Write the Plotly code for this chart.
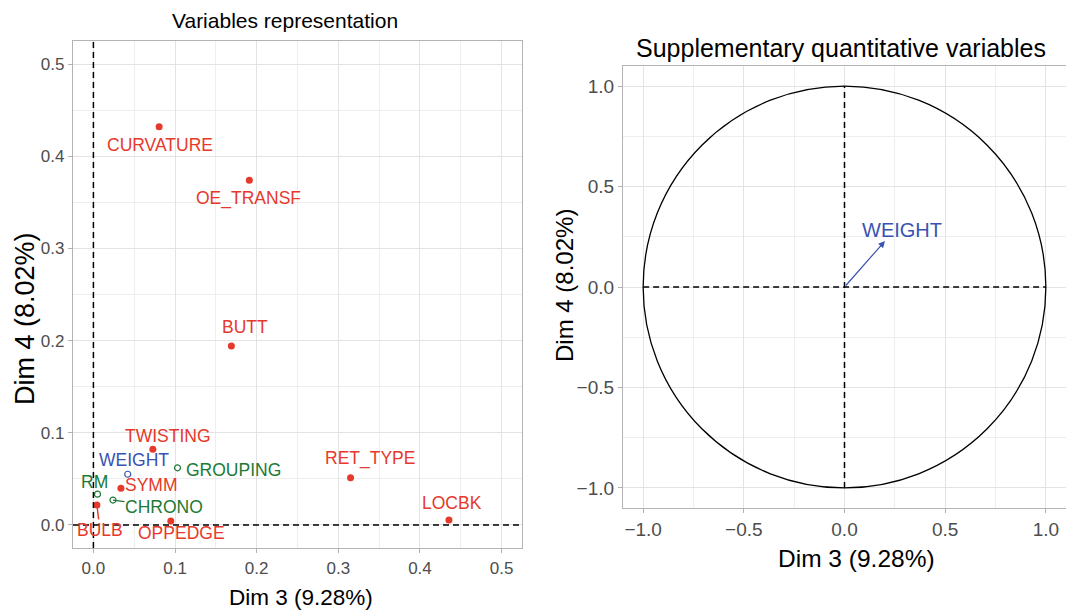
import plotly.graph_objects as go

# ---------------- data ----------------
active_vars = ["CURVATURE", "OE_TRANSF", "BUTT", "TWISTING", "SYMM", "BULB", "OPPEDGE", "RET_TYPE", "LOCBK"]
active_dim3 = [0.0805, 0.191, 0.169, 0.0728, 0.0337, 0.0043, 0.0948, 0.315, 0.4355]
active_dim4 = [0.432, 0.374, 0.194, 0.082, 0.0398, 0.0217, 0.0043, 0.0513, 0.0054]

qual_vars = ["GROUPING", "RM", "CHRONO"]
qual_dim3 = [0.103, 0.005, 0.024]
qual_dim4 = [0.062, 0.0334, 0.027]

quanti_vars = ["WEIGHT"]
quanti_dim3_sq = [0.042]
quanti_dim4_sq = [0.055]
quanti_cor3 = [0.201]
quanti_cor4 = [0.229]

left_ticks = [0.0, 0.1, 0.2, 0.3, 0.4, 0.5]
right_ticks = [-1.0, -0.5, 0.0, 0.5, 1.0]

# ---------------- styling ----------------
RED = "#E6392B"
GREEN = "#1C7A36"
BLUE = "#3953B3"
FONT = "Liberation Sans, Arial, sans-serif"
GRID = "#e3e3e3"
MINOR = "#eeeeee"
BORDER = "#b3b3b3"
TICKC = "#4d4d4d"
DASH = dict(color="black", width=1.5, dash="6px,4px")

# label pixel offsets (dx right, dy down) and whether a repel segment is drawn
label_offsets = {
    "CURVATURE": (1, 18, False), "OE_TRANSF": (-1, 18, False), "BUTT": (14, -19, False),
    "TWISTING": (15, -13, False), "SYMM": (31, -3, False), "BULB": (3, 25, True),
    "OPPEDGE": (11, 12, False), "RET_TYPE": (19, -19, False), "LOCBK": (3, -17, False),
    "GROUPING": (56, 2, False), "RM": (-3, -12, False), "CHRONO": (51, 7, True),
    "WEIGHT": (6, -14, False),
}

fig = go.Figure()

fig.add_trace(go.Scatter(x=active_dim3, y=active_dim4, mode="markers",
                         marker=dict(color=RED, size=7), xaxis="x", yaxis="y",
                         hovertext=active_vars, showlegend=False))
fig.add_trace(go.Scatter(x=qual_dim3, y=qual_dim4, mode="markers",
                         marker=dict(color=GREEN, size=6, symbol="circle-open", line=dict(width=1.2)),
                         xaxis="x", yaxis="y", hovertext=qual_vars, showlegend=False))
fig.add_trace(go.Scatter(x=quanti_dim3_sq, y=quanti_dim4_sq, mode="markers",
                         marker=dict(color=BLUE, size=6, symbol="circle-open", line=dict(width=1.2)),
                         xaxis="x", yaxis="y", hovertext=quanti_vars, showlegend=False))

annotations = []
LBL = 17.5

def add_labels(names, xs, ys, color):
    for n, x, y in zip(names, xs, ys):
        dx, dy, seg = label_offsets[n]
        if seg:
            annotations.append(dict(x=x, y=y, xref="x", yref="y", text=n, showarrow=True,
                                    ax=dx, ay=dy, arrowhead=0, arrowwidth=1.4, arrowcolor=color,
                                    standoff=0, borderpad=0,
                                    font=dict(family=FONT, size=LBL, color=color)))
        else:
            annotations.append(dict(x=x, y=y, xref="x", yref="y", text=n, showarrow=False,
                                    xanchor="center", yanchor="middle",
                                    xshift=dx, yshift=-dy,
                                    font=dict(family=FONT, size=LBL, color=color)))

add_labels(active_vars, active_dim3, active_dim4, RED)
add_labels(qual_vars, qual_dim3, qual_dim4, GREEN)
add_labels(quanti_vars, quanti_dim3_sq, quanti_dim4_sq, BLUE)

# right panel: dashed axes inside unit circle
R = 1.0
fig.add_trace(go.Scatter(x=[-R, R], y=[0, 0], mode="lines", xaxis="x2", yaxis="y2",
                         line=DASH, showlegend=False, hoverinfo="skip"))
fig.add_trace(go.Scatter(x=[0, 0], y=[-R, R], mode="lines", xaxis="x2", yaxis="y2",
                         line=DASH, showlegend=False, hoverinfo="skip"))

for n, cx, cy in zip(quanti_vars, quanti_cor3, quanti_cor4):
    annotations.append(dict(x=cx, y=cy, xref="x2", yref="y2", ax=0, ay=0, axref="x2", ayref="y2",
                            text="", showarrow=True, arrowhead=2, arrowsize=1.1, arrowwidth=1.2,
                            arrowcolor=BLUE))
    annotations.append(dict(x=cx, y=cy, xref="x2", yref="y2", text=n, showarrow=False,
                            xanchor="center", yanchor="middle",
                            xshift=17, yshift=11, font=dict(family=FONT, size=20, color=BLUE)))

def paper_text(text, px, py, size, angle=0):
    return dict(text=text, x=px / 1066, y=1 - py / 610, xref="paper", yref="paper",
                xanchor="center", yanchor="middle", textangle=angle,
                showarrow=False, font=dict(family=FONT, size=size, color="black"))

annotations += [
    paper_text("Variables representation", 285, 20, 21),
    paper_text("Supplementary quantitative variables", 841, 48, 25),
    paper_text("Dim 3 (9.28%)", 301, 597, 22.5),
    paper_text("Dim 4 (8.02%)", 25, 319, 27, -90),
    paper_text("Dim 3 (9.28%)", 856, 558, 24.5),
    paper_text("Dim 4 (8.02%)", 565, 286, 24, -90),
]

shapes = [
    dict(type="line", xref="x", yref="y domain", x0=0, x1=0, y0=0, y1=1, line=DASH),
    dict(type="line", xref="x domain", yref="y", x0=0, x1=1, y0=0, y1=0, line=DASH),
    dict(type="circle", xref="x2", yref="y2", x0=-R, x1=R, y0=-R, y1=R,
         line=dict(color="black", width=1.3)),
]

def axis_style(tickvals, rng, domain, anchor, minor_dtick, size):
    return dict(range=rng, domain=domain, anchor=anchor, tickvals=tickvals, tickformat=".1f",
                showgrid=True, gridcolor=GRID, gridwidth=1, zeroline=False,
                minor=dict(dtick=minor_dtick, tick0=0, showgrid=True, gridcolor=MINOR, gridwidth=1, ticks=""),
                showline=True, linecolor=BORDER, linewidth=1.3, mirror=True,
                ticks="outside", ticklen=4, tickcolor=BORDER, tickwidth=1,
                tickfont=dict(family=FONT, size=size, color=TICKC))

fig.update_layout(
    width=1066, height=610, margin=dict(l=0, r=0, t=0, b=0),
    paper_bgcolor="white", plot_bgcolor="white", showlegend=False,
    xaxis=axis_style(left_ticks, [-0.025, 0.525], [73 / 1066, 522 / 1066], "y", 0.05, 17),
    yaxis=axis_style(left_ticks, [-0.025, 0.525], [62 / 610, 569 / 610], "x", 0.05, 17),
    xaxis2=axis_style(right_ticks, [-1.1, 1.1], [623 / 1066, 1.0], "y2", 0.25, 19),
    yaxis2=axis_style(right_ticks, [-1.1, 1.1], [102 / 610, 544 / 610], "x2", 0.25, 19),
    annotations=annotations, shapes=shapes,
)

fig.write_html("out.html", config={"displayModeBar": False},
               post_script="document.body.style.margin='0';document.body.style.overflow='hidden';")
